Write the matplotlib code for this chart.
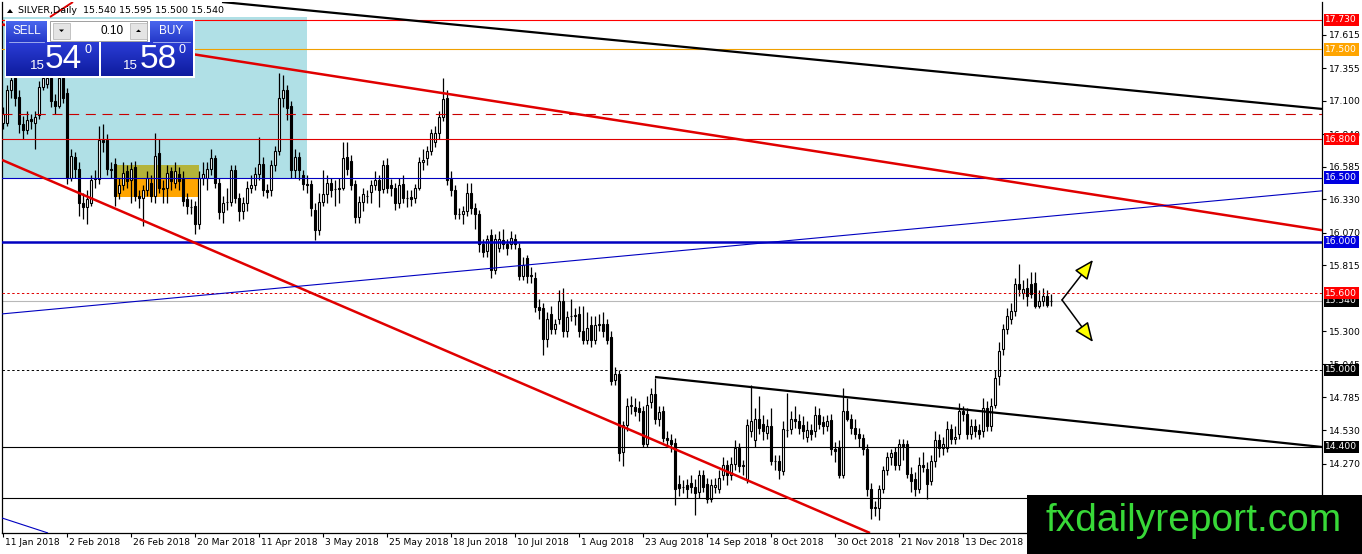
import matplotlib
matplotlib.use("Agg")
import matplotlib.pyplot as plt
import matplotlib.transforms as mtransforms
from matplotlib.colors import LinearSegmentedColormap
from matplotlib.patches import Rectangle, Polygon
import numpy as np

plt.rcParams['font.family'] = ['DejaVu Sans']

# ---- daily SILVER bars ----
opens = [
    16.93, 16.93, 17.18, 17.28, 17.13, 16.92, 16.87, 16.96, 16.93, 16.99,
    17.21, 17.23, 17.28, 17.10, 17.06, 17.28, 17.16, 16.50, 16.66, 16.57,
    16.30, 16.27, 16.30, 16.50, 16.49, 16.79, 16.79, 16.57, 16.61, 16.38,
    16.44, 16.55, 16.48, 16.58, 16.36, 16.34, 16.40, 16.46, 16.36, 16.69,
    16.42, 16.42, 16.55, 16.46, 16.53, 16.49, 16.33, 16.27, 16.28, 16.14,
    16.50, 16.50, 16.57, 16.65, 16.46, 16.23, 16.31, 16.31, 16.56, 16.34,
    16.24, 16.30, 16.42, 16.44, 16.53, 16.61, 16.40, 16.40, 16.60, 16.71,
    17.12, 17.18, 17.06, 16.56, 16.66, 16.52, 16.45, 16.45, 16.25, 16.09,
    16.31, 16.37, 16.46, 16.41, 16.41, 16.42, 16.66, 16.63, 16.45, 16.19,
    16.31, 16.36, 16.39, 16.44, 16.48, 16.41, 16.60, 16.44, 16.42, 16.30,
    16.45, 16.34, 16.35, 16.34, 16.42, 16.62, 16.65, 16.71, 16.78, 16.85,
    16.97, 17.12, 16.49, 16.40, 16.22, 16.22, 16.24, 16.38, 16.26, 16.22,
    15.98, 15.93, 16.05, 15.78, 15.95, 16.01, 15.98, 15.98, 16.02, 15.95,
    15.73, 15.87, 15.73, 15.72, 15.49, 15.48, 15.24, 15.44, 15.32, 15.40,
    15.54, 15.30, 15.42, 15.42, 15.44, 15.30, 15.23, 15.35, 15.23, 15.35,
    15.36, 15.36, 15.26, 14.92, 14.97, 14.36, 14.57, 14.72, 14.71, 14.70,
    14.68, 14.42, 14.75, 14.81, 14.62, 14.68, 14.47, 14.45, 14.43, 14.11,
    14.09, 14.10, 14.12, 14.09, 14.05, 14.18, 14.11, 13.99, 14.09, 14.07,
    14.18, 14.26, 14.18, 14.27, 14.39, 14.26, 14.15, 14.52, 14.45, 14.62,
    14.58, 14.51, 14.56, 14.29, 14.29, 14.21, 14.53, 14.54, 14.62, 14.60,
    14.57, 14.48, 14.53, 14.52, 14.65, 14.59, 14.56, 14.61, 14.38, 14.40,
    14.18, 14.68, 14.62, 14.55, 14.50, 14.47, 14.38, 14.07, 13.92, 13.92,
    14.07, 14.22, 14.32, 14.36, 14.26, 14.42, 14.42, 14.19, 14.15, 14.07,
    14.26, 14.23, 14.13, 14.29, 14.45, 14.39, 14.39, 14.54, 14.46, 14.50,
    14.68, 14.66, 14.50, 14.56, 14.53, 14.52, 14.70, 14.56, 14.73, 14.95,
    15.16, 15.32, 15.40, 15.46, 15.67, 15.60, 15.64, 15.67, 15.68, 15.50,
    15.54, 15.58, 15.54,
]
highs = [
    17.05, 17.22, 17.33, 17.32, 17.18, 16.98, 17.02, 17.00, 17.02, 17.25,
    17.33, 17.33, 17.32, 17.15, 17.32, 17.32, 17.20, 16.72, 16.70, 16.62,
    16.38, 16.40, 16.52, 16.56, 16.90, 16.92, 16.84, 16.62, 16.65, 16.50,
    16.62, 16.60, 16.62, 16.63, 16.40, 16.44, 16.55, 16.52, 16.85, 16.80,
    16.48, 16.60, 16.58, 16.62, 16.58, 16.55, 16.38, 16.33, 16.32, 16.55,
    16.62, 16.62, 16.72, 16.68, 16.50, 16.36, 16.42, 16.60, 16.60, 16.38,
    16.35, 16.47, 16.52, 16.58, 16.82, 16.66, 16.45, 16.64, 16.75, 17.32,
    17.30, 17.22, 17.10, 16.72, 16.70, 16.56, 16.52, 16.48, 16.30, 16.38,
    16.56, 16.52, 16.50, 16.48, 16.50, 16.78, 16.78, 16.68, 16.48, 16.36,
    16.42, 16.40, 16.48, 16.55, 16.52, 16.64, 16.65, 16.49, 16.46, 16.50,
    16.52, 16.40, 16.40, 16.45, 16.66, 16.72, 16.75, 16.88, 16.90, 17.02,
    17.28, 17.18, 16.55, 16.44, 16.26, 16.28, 16.46, 16.46, 16.30, 16.25,
    16.02, 16.05, 16.10, 16.06, 16.08, 16.10, 16.02, 16.08, 16.06, 15.99,
    15.88, 15.90, 15.80, 15.76, 15.55, 15.52, 15.45, 15.50, 15.40, 15.62,
    15.64, 15.46, 15.55, 15.48, 15.50, 15.50, 15.45, 15.42, 15.42, 15.44,
    15.45, 15.40, 15.30, 15.02, 15.00, 14.60, 14.78, 14.80, 14.78, 14.76,
    14.72, 14.80, 14.86, 14.94, 14.72, 14.72, 14.52, 14.50, 14.47, 14.18,
    14.14, 14.15, 14.18, 14.15, 14.22, 14.22, 14.16, 14.15, 14.16, 14.22,
    14.32, 14.30, 14.32, 14.45, 14.43, 14.30, 14.62, 14.88, 14.70, 14.80,
    14.65, 14.62, 14.70, 14.34, 14.34, 14.60, 14.82, 14.68, 14.72, 14.66,
    14.64, 14.60, 14.58, 14.72, 14.70, 14.64, 14.65, 14.66, 14.44, 14.45,
    14.86, 14.78, 14.66, 14.62, 14.55, 14.50, 14.42, 14.12, 13.98, 14.10,
    14.25, 14.36, 14.38, 14.40, 14.46, 14.46, 14.45, 14.24, 14.20, 14.32,
    14.36, 14.28, 14.34, 14.52, 14.50, 14.48, 14.60, 14.58, 14.56, 14.74,
    14.72, 14.70, 14.62, 14.62, 14.58, 14.78, 14.76, 14.78, 15.00, 15.22,
    15.36, 15.48, 15.52, 15.72, 15.83, 15.70, 15.72, 15.76, 15.76, 15.62,
    15.64, 15.62, 15.595,
]
lows = [
    16.88, 16.90, 17.12, 17.06, 16.85, 16.80, 16.84, 16.88, 16.72, 16.96,
    17.18, 17.20, 17.05, 17.00, 17.04, 17.08, 16.45, 16.47, 16.50, 16.20,
    16.18, 16.14, 16.28, 16.42, 16.45, 16.70, 16.52, 16.50, 16.28, 16.33,
    16.40, 16.42, 16.30, 16.32, 16.26, 16.12, 16.36, 16.31, 16.30, 16.38,
    16.30, 16.30, 16.40, 16.42, 16.40, 16.28, 16.22, 16.22, 16.06, 16.10,
    16.44, 16.40, 16.52, 16.42, 16.18, 16.15, 16.25, 16.28, 16.30, 16.16,
    16.18, 16.24, 16.38, 16.40, 16.48, 16.36, 16.34, 16.36, 16.55, 16.68,
    17.05, 16.95, 16.50, 16.50, 16.48, 16.40, 16.38, 16.20, 16.01, 16.05,
    16.28, 16.30, 16.35, 16.28, 16.30, 16.40, 16.52, 16.40, 16.15, 16.15,
    16.24, 16.30, 16.30, 16.40, 16.27, 16.38, 16.38, 16.36, 16.25, 16.26,
    16.30, 16.27, 16.28, 16.30, 16.40, 16.56, 16.60, 16.68, 16.74, 16.80,
    16.94, 16.44, 16.36, 16.18, 16.18, 16.14, 16.20, 16.22, 16.10, 15.92,
    15.88, 15.88, 15.72, 15.75, 15.92, 15.94, 15.90, 15.94, 15.94, 15.70,
    15.70, 15.68, 15.68, 15.45, 15.40, 15.12, 15.18, 15.28, 15.28, 15.36,
    15.26, 15.26, 15.38, 15.35, 15.26, 15.20, 15.20, 15.18, 15.20, 15.30,
    15.26, 15.20, 14.88, 14.88, 14.29, 14.25, 14.52, 14.66, 14.64, 14.60,
    14.40, 14.40, 14.70, 14.58, 14.56, 14.44, 14.40, 14.36, 13.95, 14.02,
    14.04, 14.00, 14.04, 13.87, 14.00, 14.05, 13.96, 13.97, 14.04, 14.04,
    14.14, 14.10, 14.14, 14.22, 14.20, 14.18, 14.12, 14.48, 14.40, 14.50,
    14.45, 14.46, 14.26, 14.22, 14.15, 14.18, 14.48, 14.50, 14.55, 14.50,
    14.46, 14.44, 14.45, 14.48, 14.54, 14.50, 14.52, 14.34, 14.28, 14.16,
    14.16, 14.60, 14.50, 14.46, 14.40, 14.34, 14.02, 13.84, 13.86, 13.83,
    14.04, 14.18, 14.26, 14.22, 14.22, 14.30, 14.16, 14.05, 14.02, 14.04,
    14.20, 13.99, 14.10, 14.24, 14.32, 14.34, 14.36, 14.42, 14.42, 14.46,
    14.60, 14.46, 14.46, 14.48, 14.46, 14.48, 14.52, 14.52, 14.70, 14.88,
    15.12, 15.28, 15.36, 15.42, 15.58, 15.55, 15.50, 15.56, 15.48, 15.48,
    15.50, 15.49, 15.500,
]
closes = [
    17.00, 17.18, 17.26, 17.12, 16.92, 16.87, 16.95, 16.94, 16.97, 17.21,
    17.28, 17.28, 17.10, 17.06, 17.28, 17.12, 16.50, 16.67, 16.57, 16.30,
    16.27, 16.33, 16.48, 16.49, 16.79, 16.78, 16.57, 16.56, 16.36, 16.44,
    16.54, 16.47, 16.57, 16.36, 16.34, 16.40, 16.50, 16.36, 16.67, 16.42,
    16.41, 16.54, 16.47, 16.55, 16.47, 16.32, 16.28, 16.27, 16.14, 16.50,
    16.53, 16.57, 16.65, 16.46, 16.23, 16.30, 16.31, 16.56, 16.34, 16.24,
    16.30, 16.42, 16.44, 16.53, 16.61, 16.40, 16.39, 16.60, 16.71, 17.12,
    17.18, 17.04, 16.56, 16.66, 16.56, 16.45, 16.44, 16.26, 16.09, 16.31,
    16.37, 16.46, 16.40, 16.41, 16.42, 16.65, 16.57, 16.44, 16.19, 16.31,
    16.37, 16.36, 16.44, 16.48, 16.40, 16.60, 16.42, 16.42, 16.30, 16.44,
    16.34, 16.34, 16.33, 16.42, 16.62, 16.64, 16.71, 16.85, 16.85, 16.97,
    17.11, 16.48, 16.40, 16.22, 16.22, 16.24, 16.38, 16.26, 16.22, 15.98,
    15.92, 16.02, 15.78, 16.02, 16.02, 15.98, 15.95, 16.03, 15.98, 15.73,
    15.82, 15.73, 15.74, 15.49, 15.47, 15.24, 15.40, 15.32, 15.36, 15.54,
    15.30, 15.41, 15.42, 15.43, 15.30, 15.23, 15.33, 15.23, 15.35, 15.36,
    15.30, 15.23, 14.91, 14.97, 14.35, 14.57, 14.72, 14.73, 14.68, 14.67,
    14.42, 14.73, 14.81, 14.62, 14.67, 14.47, 14.45, 14.42, 14.07, 14.08,
    14.09, 14.07, 14.09, 14.04, 14.18, 14.09, 13.99, 14.10, 14.10, 14.16,
    14.26, 14.18, 14.27, 14.39, 14.25, 14.25, 14.57, 14.60, 14.62, 14.55,
    14.52, 14.56, 14.29, 14.29, 14.22, 14.54, 14.53, 14.62, 14.60, 14.55,
    14.52, 14.53, 14.50, 14.65, 14.58, 14.56, 14.60, 14.38, 14.37, 14.18,
    14.68, 14.62, 14.55, 14.50, 14.47, 14.38, 14.07, 13.92, 13.93, 14.07,
    14.22, 14.32, 14.35, 14.26, 14.42, 14.41, 14.19, 14.13, 14.07, 14.26,
    14.24, 14.11, 14.29, 14.45, 14.39, 14.42, 14.54, 14.46, 14.48, 14.68,
    14.66, 14.50, 14.56, 14.52, 14.50, 14.70, 14.56, 14.72, 14.94, 15.15,
    15.32, 15.42, 15.46, 15.67, 15.63, 15.63, 15.58, 15.59, 15.50, 15.54,
    15.58, 15.51, 15.540,
]

date_labels = ["11 Jan 2018", "2 Feb 2018", "26 Feb 2018", "20 Mar 2018",
               "11 Apr 2018", "3 May 2018", "25 May 2018", "18 Jun 2018",
               "10 Jul 2018", "1 Aug 2018", "23 Aug 2018", "14 Sep 2018",
               "8 Oct 2018", "30 Oct 2018", "21 Nov 2018", "13 Dec 2018"]
date_bars = [0, 16, 32, 48, 64, 80, 96, 112, 128, 144, 160, 176, 192, 208, 224, 240]

# tick labels visible on the price scale (16.840 and 15.045 sit partly under level tags)
price_ticks = [17.615, 17.355, 17.100, 16.840, 16.585, 16.330, 16.070, 15.815,
               15.300, 15.045, 14.785, 14.530, 14.270]

labelled_levels = [15.540, 17.730, 17.500, 16.800, 16.500, 16.000, 15.600,
                   15.000, 14.400]

# trend lines: (bar, price) anchor pairs
trend_black_top = [(54.75, 17.870), (329.75, 17.036)]
trend_red_upper = [(-0.25, 17.695), (329.75, 16.090)]
trend_red_lower = [(-0.25, 16.638), (216.75, 13.728)]
trend_red_small = [(11.75, 17.753), (17.5, 17.870)]
trend_blue = [(-0.25, 15.437), (329.75, 16.397)]
trend_blue_steep = [(-0.25, 13.845), (11.25, 13.728)]
trend_black_low = [(163.0, 14.945), (329.75, 14.399)]

# boxes: (bar0, bar1, price0, price1)
box_teal = (-0.25, 76.0, 16.497, 17.753)
box_orange = (28.0, 49.0, 16.349, 16.599)

# arrows (bar, price)
arrow_start = (264.75, 15.546)
arrow_up_end = (272.5, 15.858)
arrow_down_end = (272.5, 15.218)

W, H = 1362, 554
fig = plt.figure(figsize=(W / 100, H / 100), dpi=100)
fig.patch.set_facecolor('white')
ax = fig.add_axes([2 / W, (H - 533) / H, 1320 / W, 531 / H])
ax.set_xlim(-0.25, 329.75)
ax.set_ylim(13.728, 17.870)

# rectangles
t0, t1, tp0, tp1 = box_teal
ax.add_patch(Rectangle((t0, tp0), t1 - t0, tp1 - tp0, fc='#B0E0E6', ec='none', zorder=0))
o0, o1, op0, op1 = box_orange
ax.add_patch(Rectangle((o0, op0), o1 - o0, op1 - op0, fc='#FFA500', ec='none', zorder=0.5))
ax.add_patch(Rectangle((o0, tp0), o1 - o0, op1 - tp0, fc='#B4B43A', ec='none', zorder=0.6))

# candles
bars = np.arange(len(closes))
o = np.array(opens)
c = np.array(closes)
ax.vlines(bars, lows, highs, color='black', lw=0.9, zorder=2)
bottoms = np.minimum(o, c)
heights = np.abs(c - o)
faces = ['black' if cc < oo else 'white' for oo, cc in zip(o, c)]
ax.bar(bars, heights, bottom=bottoms, width=0.62, color=faces,
       edgecolor='black', linewidth=0.8, zorder=3)

# horizontal levels
ax.axhline(17.730, color='#FF0000', lw=0.8, zorder=4)
ax.axhline(17.500, color='#F0A000', lw=0.8, zorder=4)
ax.axhline(17.000, color='#C80000', lw=0.8, dashes=(9, 6), zorder=4)
ax.axhline(16.800, color='#E00000', lw=0.8, zorder=4)
ax.axhline(16.500, color='#0000C0', lw=0.8, zorder=4)
ax.axhline(16.000, color='#0000C0', lw=1.8, zorder=4)
ax.axhline(15.600, color='#E00000', lw=0.7, dashes=(2.5, 2.5), zorder=4)
ax.axhline(15.540, color='#B8B8B8', lw=0.8, zorder=1)
ax.axhline(15.000, color='black', lw=0.7, dashes=(2.5, 2.5), zorder=4)
ax.axhline(14.400, color='black', lw=0.8, zorder=4)
ax.axhline(14.000, color='black', lw=0.8, zorder=4)

def trend(pts, **kw):
    (x0, y0), (x1, y1) = pts
    ax.plot([x0, x1], [y0, y1], solid_capstyle='butt', zorder=4, **kw)

trend(trend_black_top, color='black', lw=1.6)
trend(trend_red_upper, color='#E00000', lw=1.8)
trend(trend_red_lower, color='#E00000', lw=1.8)
trend(trend_red_small, color='#E00000', lw=1.4)
trend(trend_blue, color='#0000C0', lw=0.8)
trend(trend_blue_steep, color='#0000C0', lw=0.8)
trend(trend_black_low, color='black', lw=1.6)

for end in (arrow_up_end, arrow_down_end):
    ax.annotate('', xy=end, xytext=arrow_start,
                arrowprops=dict(arrowstyle='-|>,head_length=1.2,head_width=0.5',
                                fc='#FFFF00', ec='black', lw=1.1,
                                shrinkA=0, shrinkB=0), zorder=5)

# axes styling
ax.spines['top'].set_visible(False)
for s in ('left', 'right', 'bottom'):
    ax.spines[s].set_color('black')
    ax.spines[s].set_linewidth(0.9)
ax.yaxis.tick_right()
ax.set_yticks(price_ticks)
ax.set_yticklabels([f"{p:.3f}" for p in price_ticks])
ax.tick_params(axis='y', direction='out', length=3, width=0.8, pad=2,
               labelsize=6.6, colors='black')
ax.set_xticks(date_bars)
ax.set_xticklabels([])
ax.tick_params(axis='x', direction='out', length=3, width=0.8)
for b, lab in zip(date_bars, date_labels):
    ax.text(b + 0.4, -0.009, lab, transform=ax.get_xaxis_transform(),
            ha='left', va='top', fontsize=6.6, clip_on=False)

# level tags on the price axis
blend = mtransforms.blended_transform_factory(ax.transAxes, ax.transData)
label_bg = {17.730: '#FF0000', 17.500: '#FFA500', 16.800: '#FF0000',
            16.500: '#0000E0', 16.000: '#0000E0', 15.600: '#FF0000',
            15.540: 'black', 15.000: 'black', 14.400: 'black'}
for p in labelled_levels:
    ax.text(1.0025, p, f"{p:.3f}", transform=blend, ha='left', va='center',
            fontsize=6.6, color='white', clip_on=False, zorder=10,
            bbox=dict(boxstyle='square,pad=0.18', fc=label_bg[p], ec='none'))

# ---- overlay: trading panel, header, logo ----
ov = fig.add_axes([0, 0, 1, 1], zorder=20)
ov.set_xlim(0, W)
ov.set_ylim(H, 0)
ov.axis('off')

def grad(x0, x1, y0, y1, c_top, c_bot):
    cm = LinearSegmentedColormap.from_list('g', [c_top, c_bot])
    g = np.linspace(0, 1, 64).reshape(-1, 1)
    ov.imshow(g, cmap=cm, extent=(x0, x1, y1, y0), aspect='auto',
              interpolation='bilinear', zorder=21)

ov.add_patch(Rectangle((5, 19), 190, 59, fc='white', ec='none', zorder=20.5))
grad(6, 47, 21, 42, '#4A66EE', '#2438C8')
grad(150, 193, 21, 42, '#4A66EE', '#2438C8')
grad(6, 99, 42, 76, '#2A3CD6', '#0E1C9E')
grad(101, 193, 42, 76, '#2A3CD6', '#0E1C9E')
ov.plot([9, 44], [41.5, 41.5], color='#B0BCF0', lw=0.6, zorder=22)
ov.plot([153, 190], [41.5, 41.5], color='#B0BCF0', lw=0.6, zorder=22)
ov.add_patch(Rectangle((50, 21), 97, 20, fc='white', ec='#A0A0A0', lw=0.7, zorder=21))
ov.add_patch(Rectangle((53, 23), 17, 16, fc='#E4E4E4', ec='#B0B0B0', lw=0.5, zorder=22))
ov.add_patch(Rectangle((130, 23), 17, 16, fc='#E4E4E4', ec='#B0B0B0', lw=0.5, zorder=22))
ov.add_patch(Polygon([(59, 29.5), (64, 29.5), (61.5, 32)], fc='black', zorder=23))
ov.add_patch(Polygon([(136, 32), (141, 32), (138.5, 29.5)], fc='black', zorder=23))
ov.text(124, 31, "0.10", ha='right', va='center', fontsize=8.5,
        family='Liberation Sans', zorder=23)
ov.text(26.5, 31, "SELL", ha='center', va='center', fontsize=8.5, color='white',
        family='Liberation Sans', zorder=23)
ov.text(171.5, 31, "BUY", ha='center', va='center', fontsize=8.5, color='white',
        family='Liberation Sans', zorder=23)
for x_small, x_big, x_sup, big in ((37, 63, 88, "54"), (130, 158, 182, "58")):
    ov.text(x_small, 66, "15", ha='center', va='center', fontsize=9.5, color='white',
            family='Liberation Sans', zorder=23)
    ov.text(x_big, 59, big, ha='center', va='center', fontsize=24, color='white',
            family='Liberation Sans', zorder=23)
    ov.text(x_sup, 50, "0", ha='center', va='center', fontsize=9, color='white',
            family='Liberation Sans', zorder=23)

ov.add_patch(Polygon([(7, 13), (13, 13), (10, 9)], fc='black', zorder=23))
ov.text(18, 10.5, "SILVER,Daily  15.540 15.595 15.500 15.540", ha='left',
        va='center', fontsize=6.8, zorder=23)

ov.add_patch(Rectangle((1027, 495), W - 1027, H - 495, fc='black', ec='none', zorder=21))
ov.text(1194, 521, "fxdailyreport.com", ha='center', va='center', fontsize=28,
        color='#38D838', family='Liberation Sans', zorder=22)

fig.savefig('out.png', dpi=100)
